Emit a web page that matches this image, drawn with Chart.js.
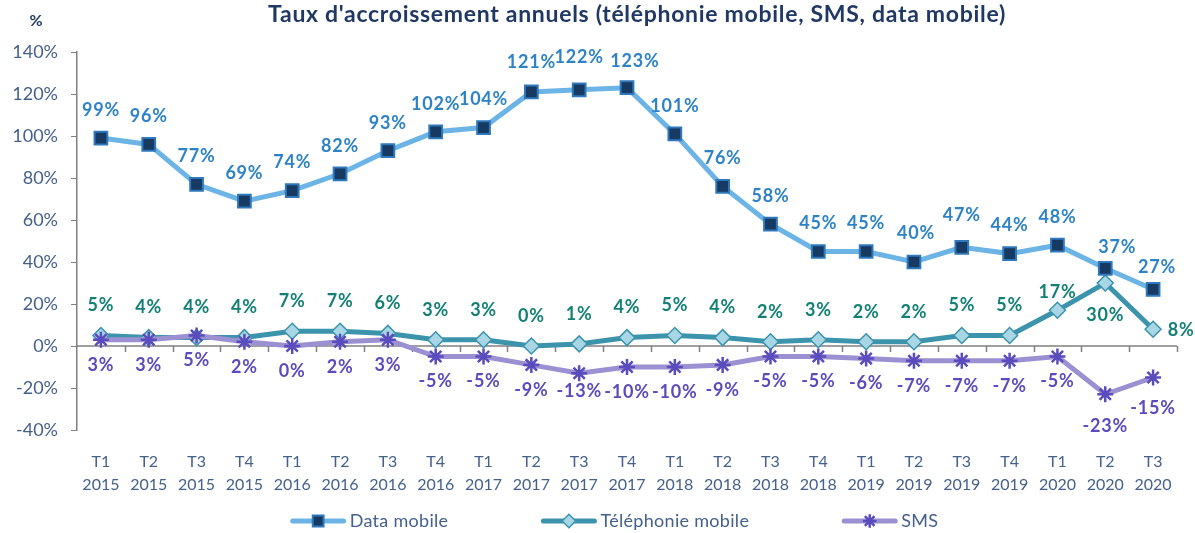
<!DOCTYPE html>
<html>
<head>
<meta charset="utf-8">
<script src="https://cdn.jsdelivr.net/npm/chart.js@4"></script>
<style>
    html, body { margin: 0; padding: 0; background: #ffffff; }
    #wrap { width: 1195px; height: 533px; position: relative; }
</style>
</head>
<body>
<div id="wrap"><canvas id="growthChart" width="1195" height="533"></canvas></div>
<script>
// Chart data
const quarters = ['T1', 'T2', 'T3', 'T4', 'T1', 'T2', 'T3', 'T4', 'T1', 'T2', 'T3', 'T4',
    'T1', 'T2', 'T3', 'T4', 'T1', 'T2', 'T3', 'T4', 'T1', 'T2', 'T3'];
const years = ['2015', '2015', '2015', '2015', '2016', '2016', '2016', '2016', '2017', '2017', '2017', '2017',
    '2018', '2018', '2018', '2018', '2019', '2019', '2019', '2019', '2020', '2020', '2020'];

const dataMobile = [99, 96, 77, 69, 74, 82, 93, 102, 104, 121, 122, 123, 101, 76, 58, 45, 45, 40, 47, 44, 48, 37, 27];
const telephonieMobile = [5, 4, 4, 4, 7, 7, 6, 3, 3, 0, 1, 4, 5, 4, 2, 3, 2, 2, 5, 5, 17, 30, 8];
const sms = [3, 3, 5, 2, 0, 2, 3, -5, -5, -9, -13, -10, -10, -9, -5, -5, -6, -7, -7, -7, -5, -23, -15];

const yMin = -40;
const yMax = 140;
const yStep = 20;

const seriesNames = ['Data mobile', 'Téléphonie mobile', 'SMS'];

const FONT = 'Lato, "Open Sans", sans-serif';
const axisTextColor = '#44618c';
const titleColor = '#1f3864';
const axisLineColor = '#808080';

// label colours and placement per series
const labelStyles = [
    { color: '#2e83c6', dx: 0, dy: -28 },
    { color: '#138075', dx: 0, dy: -30 },
    { color: '#5a4cbc', dx: 0, dy: 25 }
];
const labelTweaks = {
    0: { 9: { dy: -30 }, 10: { dy: -33 }, 11: { dx: 8, dy: -27 }, 17: { dx: 2, dy: -29 }, 18: { dy: -32 }, 21: { dx: 12, dy: -21 }, 22: { dx: 4, dy: -22 } },
    1: { 20: { dy: -18 }, 21: { dy: 32 }, 22: { dx: 28, dy: 1 } },
    2: { 10: { dy: 18 }, 21: { dy: 32 }, 22: { dy: 31 } }
};

const labels = quarters.map((q, i) => [q, years[i]]);

const decorPlugin = {
    id: 'decor',
    beforeDatasetsDraw(chart) {
        const ctx = chart.ctx;
        const area = chart.chartArea;
        const y0 = chart.scales.y.getPixelForValue(0);
        const n = labels.length;
        const step = (area.right - area.left) / n;
        ctx.save();
        ctx.strokeStyle = axisLineColor;
        ctx.lineWidth = 1.5;
        ctx.beginPath();
        ctx.moveTo(area.left, y0);
        ctx.lineTo(area.right, y0);
        for (let i = 1; i <= n; i++) {
            const x = Math.round(area.left + i * step) + 0.5;
            ctx.moveTo(x, y0);
            ctx.lineTo(x, y0 + 6);
        }
        ctx.stroke();
        ctx.restore();
    },
    afterDatasetsDraw(chart) {
        const ctx = chart.ctx;
        ctx.save();
        ctx.font = 'bold 18px ' + FONT;
        ctx.letterSpacing = '0.8px';
        ctx.textAlign = 'center';
        ctx.textBaseline = 'middle';
        chart.data.datasets.forEach((ds, di) => {
            const meta = chart.getDatasetMeta(di);
            const st = labelStyles[di];
            ctx.fillStyle = st.color;
            meta.data.forEach((pt, j) => {
                const tw = (labelTweaks[di] && labelTweaks[di][j]) || {};
                const dx = tw.dx !== undefined ? tw.dx : st.dx;
                const dy = tw.dy !== undefined ? tw.dy : st.dy;
                ctx.fillText(ds.data[j] + '%', pt.x + dx, pt.y + dy);
            });
        });

        // title and unit
        ctx.fillStyle = titleColor;
        ctx.font = 'bold 23px ' + FONT;
        ctx.letterSpacing = '0.7px';
        ctx.textAlign = 'center';
        ctx.fillText("Taux d'accroissement annuels (téléphonie mobile, SMS, data mobile)", 637, 15);
        ctx.font = 'bold 16px ' + FONT;
        ctx.letterSpacing = '0px';
        ctx.fillText('%', 36, 21);

        // legend
        ctx.font = '18px ' + FONT;
        ctx.letterSpacing = '0.3px';
        const lineLen = 57;
        const gap = 92;
        const widths = chart.data.datasets.map(ds => lineLen + 3 + ctx.measureText(ds.label).width);
        const total = widths.reduce((a, b) => a + b, 0) + gap * (widths.length - 1);
        let x = 614 - total / 2;
        const ly = 521;
        chart.data.datasets.forEach((ds, di) => {
            ctx.strokeStyle = ds.borderColor;
            ctx.lineWidth = 5;
            ctx.lineCap = 'round';
            ctx.beginPath();
            ctx.moveTo(x + 3, ly);
            ctx.lineTo(x + lineLen - 3, ly);
            ctx.stroke();
            ctx.lineCap = 'butt';
            ctx.fillStyle = ds.pointBackgroundColor;
            ctx.strokeStyle = ds.pointBorderColor;
            ctx.lineWidth = ds.pointBorderWidth;
            Chart.helpers.drawPoint(ctx, {
                pointStyle: ds.pointStyle,
                radius: ds.pointRadius * 0.85,
                borderWidth: ds.pointBorderWidth
            }, x + lineLen / 2, ly);
            ctx.fillStyle = axisTextColor;
            ctx.textAlign = 'left';
            ctx.fillText(ds.label, x + lineLen + 3, ly);
            x += widths[di] + gap;
        });
        ctx.restore();
    }
};

const ctx = document.getElementById('growthChart');
const chart = new Chart(ctx, {
    type: 'line',
    data: {
        labels: labels,
        datasets: [
            {
                label: seriesNames[0],
                data: dataMobile,
                order: 0,
                borderColor: '#6cb4e6',
                borderWidth: 5,
                pointStyle: 'rect',
                pointRadius: 9,
                pointBackgroundColor: '#173a63',
                pointBorderColor: '#2e78bb',
                pointBorderWidth: 2,
                tension: 0
            },
            {
                label: seriesNames[1],
                data: telephonieMobile,
                order: 2,
                borderColor: '#3c93ac',
                borderWidth: 5,
                pointStyle: 'rectRot',
                pointRadius: 8,
                pointBackgroundColor: '#a9d6e5',
                pointBorderColor: '#3c93ac',
                pointBorderWidth: 1.5,
                tension: 0
            },
            {
                label: seriesNames[2],
                data: sms,
                order: 1,
                borderColor: '#9b90d2',
                borderWidth: 5,
                pointStyle: 'star',
                pointRadius: 8,
                pointBackgroundColor: '#5a4cbc',
                pointBorderColor: '#5a4cbc',
                pointBorderWidth: 2.5,
                tension: 0
            }
        ]
    },
    options: {
        responsive: false,
        animation: false,
        layout: { padding: { top: 52, left: 0, right: 18, bottom: 43 } },
        plugins: {
            legend: { display: false },
            title: { display: false },
            tooltip: { enabled: false }
        },
        scales: {
            x: {
                offset: true,
                grid: { display: false },
                border: { display: false },
                ticks: {
                    color: axisTextColor,
                    font: { family: FONT, size: 16, lineHeight: 1.45 },
                    padding: 12,
                    maxRotation: 0,
                    autoSkip: false
                },
                afterFit(scale) { scale.height = 60; }
            },
            y: {
                min: yMin,
                max: yMax,
                grid: {
                    display: true,
                    drawOnChartArea: false,
                    drawTicks: true,
                    tickLength: 6,
                    color: axisLineColor
                },
                border: { display: true, color: axisLineColor, width: 1.5 },
                ticks: {
                    stepSize: yStep,
                    color: axisTextColor,
                    font: { family: FONT, size: 18 },
                    padding: 13,
                    callback: v => v + '%'
                },
                afterFit(scale) { scale.width = 77; }
            }
        }
    },
    plugins: [decorPlugin]
});
</script>
</body>
</html>
